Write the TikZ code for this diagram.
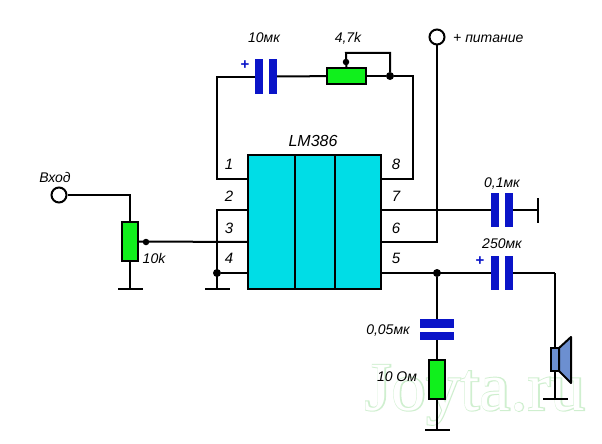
\documentclass[tikz,border=0pt]{standalone}
\usepackage{fontspec}
\setmainfont{Liberation Sans}
\newfontfamily\markfont{Liberation Serif}
\definecolor{chipcyan}{HTML}{00DDE6}
\definecolor{capblue}{HTML}{0A14C8}
\definecolor{resgreen}{HTML}{10F01C}
\definecolor{conblue}{HTML}{6C8FD0}
\definecolor{markgreen}{HTML}{CFEFCF}
\tikzset{
  wire/.style={line width=2pt},
  chip/.style={draw, line width=2pt, fill=chipcyan, inner sep=0pt, minimum width=133pt, minimum height=134pt},
  capv/.style={fill=capblue, inner sep=0pt, minimum width=8pt, minimum height=34pt},
  caph/.style={fill=capblue, inner sep=0pt, minimum width=34pt, minimum height=8.5pt},
  resh/.style={draw, line width=2pt, fill=resgreen, inner sep=0pt, minimum width=39pt, minimum height=16pt},
  resv/.style={draw, line width=2pt, fill=resgreen, inner sep=0pt, minimum width=16pt, minimum height=39pt},
  gndh/.style={fill=black, inner sep=0pt, minimum width=25pt, minimum height=2pt},
  gndv/.style={fill=black, inner sep=0pt, minimum width=2pt, minimum height=25pt},
  term/.style={circle, draw, line width=2pt, fill=white, inner sep=0pt, minimum size=15pt},
  dot/.style={circle, fill=black, inner sep=0pt, minimum size=8pt},
  tip/.style={circle, fill=black, inner sep=0pt, minimum size=6.5pt},
  lab/.style={font=\itshape\fontsize{14}{14}\selectfont, inner sep=0pt},
  pinlab/.style={font=\itshape\fontsize{15}{15}\selectfont, inner sep=0pt},
  plus/.style={font=\bfseries\fontsize{15}{15}\selectfont, text=capblue, inner sep=0pt}
}
\begin{document}
\begin{tikzpicture}[x=1pt, y=-1pt]
    \useasboundingbox (0,0) rectangle (602,444);

    % Watermark
    \node[font=\markfont\fontsize{69}{69}\selectfont, text=markgreen, inner sep=0pt, anchor=base] (mark) at (475,410)
        {\rlap{\addfontfeature{FakeBold=3}Joyta.ru}\textcolor{white}{Joyta.ru}};

    % Draw nodes
    \node[chip] (lm) at (314.5,222) {};
    \node[term] (vin) at (59,195) {};
    \node[term] (vcc) at (437,37) {};
    \node[capv] (c1a) at (259,76.5) {};
    \node[capv] (c1b) at (273,76.5) {};
    \node[resh] (r1) at (346.5,76) {};
    \node[resv] (r2) at (130,241.5) {};
    \node[capv] (c2a) at (495,210) {};
    \node[capv] (c2b) at (509,210) {};
    \node[capv] (c3a) at (495,273) {};
    \node[capv] (c3b) at (509,273) {};
    \node[caph] (c4a) at (437,323.5) {};
    \node[caph] (c4b) at (437,336) {};
    \node[resv] (r3) at (437,379.5) {};
    \node[gndh] (g1) at (130,289) {};
    \node[gndh] (g2) at (217,289) {};
    \node[gndh] (g3) at (437,430) {};
    \node[gndh] (g4) at (555,399) {};
    \node[gndv] (g5) at (538,210) {};
    \node[dot] (d1) at (390,76) {};
    \node[dot] (d2) at (217,273) {};
    \node[dot] (d3) at (437,273) {};
    \node[tip] (t1) at (346,62) {};
    \node[tip] (t2) at (146,242) {};

    % Pins and corners
    \coordinate (p1) at (248,179);
    \coordinate (p2) at (248,210);
    \coordinate (p3) at (248,242);
    \coordinate (p4) at (248,273);
    \coordinate (p5) at (381,273);
    \coordinate (p6) at (381,242);
    \coordinate (p7) at (381,210);
    \coordinate (p8) at (381,179);
    \coordinate (k1) at (217,179);
    \coordinate (k2) at (413,179);
    \coordinate (k3) at (346,53);
    \coordinate (k4) at (390,53);
    \coordinate (k5) at (130,195);
    \coordinate (k6) at (217,210);
    \coordinate (k7) at (437,242);
    \coordinate (k8) at (555,273);

    % Chip partitions
    \foreach \x in {295,335}
        \draw[line width=1.5pt] (\x,155) -- (\x,289);

    % Draw edges
    \draw[wire] (p1) -- (k1) |- (c1a);
    \draw[wire] (c1b) -- (r1);
    \draw[wire] (r1) -- (d1);
    \draw[wire] (d1) -| (k2) -- (p8);
    \draw[wire] (r1) -- (k3) -- (k4) -- (d1);
    \draw[wire] (vin) -- (k5) -- (r2);
    \draw[wire] (r2) -- (g1);
    \draw[wire] (r2.east) -- (p3);
    \draw[wire] (p2) -- (k6) -- (g2);
    \draw[wire] (d2) -- (p4);
    \draw[wire] (vcc) -- (k7) -- (p6);
    \draw[wire] (p7) -- (c2a);
    \draw[wire] (c2b) -- (g5);
    \draw[wire] (p5) -- (c3a);
    \draw[wire] (c3b) -- (k8);

    % Speaker
    \node[draw, line width=2pt, fill=conblue, inner sep=0pt, minimum width=8pt, minimum height=23pt] (spk) at (555,359.5) {};
    \draw[line width=2pt, fill=conblue, line join=round] (559,348) -- (571,337) -- (571,383) -- (559,371) -- cycle;
    \draw[wire] (k8) -- (spk);
    \draw[wire] (spk) -- (g4);

    % Lower branch
    \draw[wire] (d3) -- (c4a);
    \draw[wire] (c4b) -- (r3);
    \draw[wire] (r3) -- (g3);

    % Labels
    \node[lab] (tc1) at (264,38) {10мк};
    \node[lab] (tr1) at (348,38) {4,7k};
    \node[lab, anchor=west] (tvcc) at (453,39) {+ питание};
    \node[lab] (tvin) at (55,177) {Вход};
    \node[lab] (tr2) at (154,258) {10k};
    \node[lab] (tc2) at (502,184) {0,1мк};
    \node[lab] (tc3) at (502,244) {250мк};
    \node[lab] (tc4) at (388,331) {0,05мк};
    \node[lab] (tr3) at (397,377) {10 Ом};
    \node[font=\itshape\fontsize{16}{16}\selectfont, inner sep=0pt] (tlm) at (313,141) {LM386};
    \node[plus] (pa) at (245,65) {+};
    \node[plus] (pb) at (480,261) {+};
    \foreach \n/\x/\y in {1/229/164,2/229/196,3/229/228,4/229/258,8/396/164,7/396/196,6/396/228,5/396/258}
        \node[pinlab] (n\n) at (\x,\y) {\n};
\end{tikzpicture}
\end{document}
